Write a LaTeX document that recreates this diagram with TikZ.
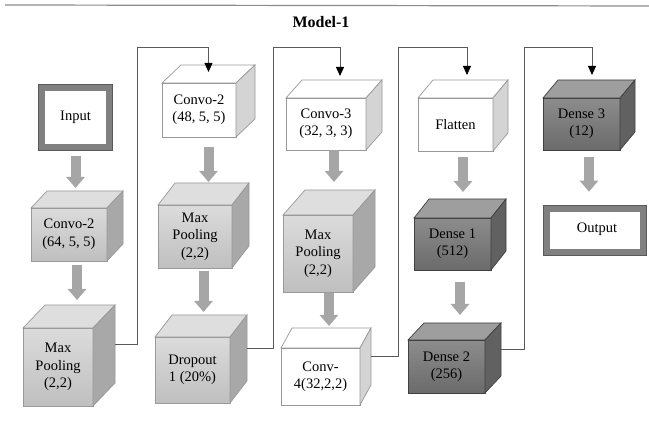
\documentclass[tikz,border=0pt]{standalone}
\usepackage{fontspec}
\setmainfont{Liberation Serif}
\usetikzlibrary{positioning, arrows.meta, calc}

\newcommand{\cubefont}{\fontsize{14.5}{17.5}\selectfont}
% top and right faces of a box, plus helper points
\newcommand{\cubefaces}[4]{%
  \draw[#4 top] (#1.north west) -- ++(#2,#3) -- ($(#1.north east)+(#2,#3)$) -- (#1.north east) -- cycle;
  \draw[#4 side] (#1.north east) -- ++(#2,#3) -- ($(#1.south east)+(#2,#3)$) -- (#1.south east) -- cycle;
  \coordinate (#1-t) at ($(#1.north)+({#2/2},#3)$);
  \coordinate (#1-b) at ($(#1.south)+({#2/2},0)$);
  \coordinate (#1-r) at ($(#1.east)+(#2,#3)$);
}

\begin{document}
\begin{tikzpicture}[x=1pt, y=1pt,
        base/.style={align=center, font=\cubefont, inner sep=0pt, outer sep=0pt, line width=0.7pt},
        greycube/.style={base, draw=black!40, top color=black!14, bottom color=black!25},
        greycube top/.style={draw=black!40, line width=0.7pt, fill=black!13},
        greycube side/.style={draw=black!40, line width=0.7pt, fill=black!34},
        paper/.style={base, draw=black!40, fill=white},
        paper top/.style={draw=black!40, line width=0.7pt, fill=white},
        paper side/.style={draw=black!40, line width=0.7pt, fill=black!17},
        darkcube/.style={base, draw=black!75, top color=black!45, bottom color=black!58},
        darkcube top/.style={draw=black!75, line width=0.7pt, fill=black!38},
        darkcube side/.style={draw=black!75, line width=0.7pt, fill=black!62},
        io/.style={base, draw=black!65, double=black!50, double distance=6pt, fill=white},
        fat/.style={draw=black!35, line width=10pt, -{Triangle[length=11pt,width=18pt]}},
        link/.style={draw=black!65, line width=0.8pt, -{Triangle[length=9pt,width=8pt,color=black]}}
    ]
    \useasboundingbox (0,0) rectangle (649,422);
    \draw[black!45, line width=1.2pt] (5,417) -- (649,416);
    \node[font=\bfseries\fontsize{16}{19}\selectfont] (title) at (321,400) {Model-1};
    \coordinate (rail) at (0,375);

    % Column 1
    \node[io, minimum width=67.6pt, minimum height=59.6pt] (input) at (75.5,304.5) {\raisebox{-6pt}{Input}};
    \node[greycube, minimum width=76pt, minimum height=53pt] (conv1) at (69,187.5) {Convo-2\\(64, 5, 5)};
    \cubefaces{conv1}{16}{17}{greycube}
    \node[greycube, minimum width=70pt, minimum height=78pt] (pool1) at (58,55) {Max\\Pooling\\(2,2)};
    \cubefaces{pool1}{22}{23}{greycube}
    % Column 2
    \node[paper, minimum width=74pt, minimum height=54pt] (conv2) at (199,312) {Convo-2\\(48, 5, 5)};
    \cubefaces{conv2}{19}{18}{paper}
    \node[greycube, minimum width=74pt, minimum height=63pt] (pool2) at (195,185.5) {Max\\Pooling\\(2,2)};
    \cubefaces{pool2}{17}{22}{greycube}
    \node[greycube, minimum width=75pt, minimum height=66pt] (drop) at (192.5,52) {Dropout\\1 (20\%)};
    \cubefaces{drop}{17}{22}{greycube}
    % Column 3
    \node[paper, minimum width=80pt, minimum height=52pt] (conv3) at (326,298) {Convo-3\\(32, 3, 3)};
    \cubefaces{conv3}{16}{18}{paper}
    \node[greycube, minimum width=70pt, minimum height=77pt] (pool3) at (318,168.5) {Max\\Pooling\\(2,2)};
    \cubefaces{pool3}{22}{25}{greycube}
    \node[paper, minimum width=79pt, minimum height=57pt] (conv4) at (320.5,45.5) {Conv-\\4(32,2,2)};
    \cubefaces{conv4}{11}{20}{paper}
    % Column 4
    \node[paper, minimum width=75pt, minimum height=53pt] (flat) at (455.5,297.5) {Flatten};
    \cubefaces{flat}{15}{18}{paper}
    \node[darkcube, minimum width=77pt, minimum height=52pt] (dense1) at (452.5,178) {Dense 1\\(512)};
    \cubefaces{dense1}{15}{19}{darkcube}
    \node[darkcube, minimum width=77pt, minimum height=53pt] (dense2) at (446.5,55.5) {Dense 2\\(256)};
    \cubefaces{dense2}{16}{17}{darkcube}
    % Column 5
    \node[darkcube, minimum width=77pt, minimum height=52pt] (dense3) at (581.5,298) {Dense 3\\(12)};
    \cubefaces{dense3}{15}{18}{darkcube}
    \node[io, minimum width=96.6pt, minimum height=43.6pt] (output) at (595,191.5) {\raisebox{6pt}{\hspace{4pt}Output}};

    % grey block arrows
    \draw[fat, shorten <=8.7pt, shorten >=3pt] (input.south) -- (input.south |- conv1-t);
    \draw[fat, shorten <=4pt, shorten >=5pt] (conv1-b) -- (conv1-b |- pool1-t);
    \draw[fat, shorten <=10pt, shorten >=1pt] (conv2-b) -- (conv2-b |- pool2-t);
    \draw[fat, shorten <=3pt, shorten >=3pt] (pool2-b) -- (pool2-b |- drop-t);
    \draw[fat, shorten >=8pt] (conv3-b) -- (conv3-b |- pool3-t);
    \draw[fat, shorten <=1pt, shorten >=2pt] (pool3-b) -- (pool3-b |- conv4-t);
    \draw[fat, shorten <=6pt, shorten >=7pt] (flat-b) -- (flat-b |- dense1-t);
    \draw[fat, shorten <=12pt, shorten >=8pt] (dense1-b) -- (dense1-b |- dense2-t);
    \draw[fat, shorten <=7pt, shorten >=17pt] (dense3-b) -- (dense3-b |- output.north);

    % thin links between columns
    \draw[link, shorten >=-7pt] (pool1-r) -- ++(22,0) |- (rail -| conv2-t) -- (conv2-t);
    \draw[link, shorten >=4pt] (drop-r) -- ++(26,0) |- ([xshift=6pt]rail -| conv3-t) -- ([xshift=6pt]conv3-t);
    \draw[link, shorten >=5pt] (conv4-r) -- ++(27,0) |- ([xshift=4pt]rail -| flat-t) -- ([xshift=4pt]flat-t);
    \draw[link, shorten >=5pt] (dense2-r) -- ++(23,0) |- ([xshift=3pt]rail -| dense3-t) -- ([xshift=3pt]dense3-t);
\end{tikzpicture}
\end{document}
